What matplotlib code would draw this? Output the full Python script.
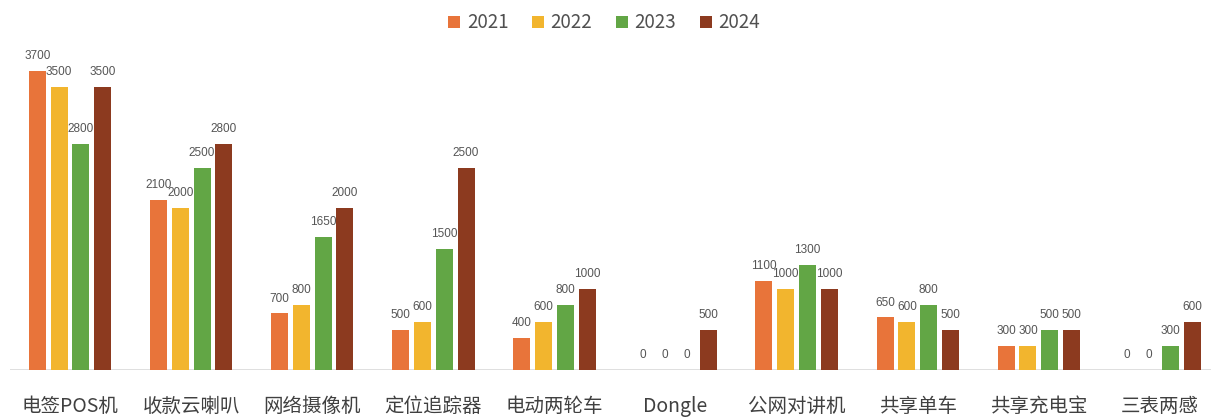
import matplotlib
matplotlib.use("Agg")
import matplotlib.pyplot as plt
import numpy as np

plt.rcParams['font.family'] = ['Noto Sans CJK SC', 'DejaVu Sans']

categories = ["电签POS机", "收款云喇叭", "网络摄像机", "定位追踪器", "电动两轮车",
              "Dongle", "公网对讲机", "共享单车", "共享充电宝", "三表两感"]
years = ["2021", "2022", "2023", "2024"]
v2021 = [3700, 2100, 700, 500, 400, 0, 1100, 650, 300, 0]
v2022 = [3500, 2000, 800, 600, 600, 0, 1000, 600, 300, 0]
v2023 = [2800, 2500, 1650, 1500, 800, 0, 1300, 800, 500, 300]
v2024 = [3500, 2800, 2000, 2500, 1000, 500, 1000, 500, 500, 600]
series = [v2021, v2022, v2023, v2024]
colors = ["#E8743A", "#F2B52E", "#62A645", "#8C3A1F"]

W, H = 1211, 419
fig = plt.figure(figsize=(W / 100, H / 100), dpi=100)
base_px = 370
px_per_unit = 299 / 3700
ymax = 4500
ax = fig.add_axes([9.5 / W, (H - base_px) / H, 1211 / W, ymax * px_per_unit / H])

x = np.arange(len(categories))
pitch = 0.18
width = 0.14
for i, (vals, c, lab) in enumerate(zip(series, colors, years)):
    pos = x + (i - 1.5) * pitch
    ax.bar(pos, vals, width=width, color=c, label=lab, zorder=2)
    for p, v in zip(pos, vals):
        ax.text(p, v + 110, f"{v}", ha="center", va="bottom", fontsize=8.5,
                color="#555555", family="Liberation Sans")

ax.set_xlim(-0.5, 9.5)
ax.set_ylim(0, ymax)
ax.axhline(0, color="#d9d9d9", lw=1.2, zorder=1)
for s in ax.spines.values():
    s.set_visible(False)
ax.set_yticks([])
ax.set_xticks(x)
ax.set_xticklabels(categories, fontsize=14, color="#404040")
ax.tick_params(axis="x", length=0, pad=19)

fig.legend(loc="center", bbox_to_anchor=(604 / W, 1 - 23 / H), ncol=4,
           frameon=False, fontsize=13.5, handlelength=0.65, handleheight=0.65,
           handletextpad=0.35, columnspacing=1.25, labelcolor="#505050")

fig.savefig("out.png", dpi=100, facecolor="white")
